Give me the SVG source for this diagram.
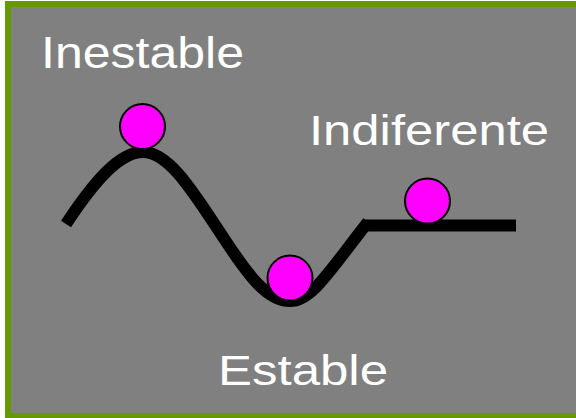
<svg xmlns="http://www.w3.org/2000/svg" width="576" height="418" viewBox="0 0 576 418">
  <style>
    .lbl { font-family: "Liberation Sans", Arial, sans-serif; fill: #ffffff; }
    .ball { fill: #ff00ff; stroke: #000000; stroke-width: 2; }
    .track { fill: none; stroke: #000000; stroke-width: 12; }
  </style>
  <rect x="0" y="0" width="576" height="418" fill="#ffffff"/>
  <rect id="frame" x="8" y="4" width="700" height="412" fill="#808080" stroke="#669900" stroke-width="6"/>
  <g id="connectors">
    <path class="track" d="M66,224 C95,180 120,152 143,152 C170,152 195,195 225,240 C250,278 268,301 290,301 C312,301 330,270 368,222"/>
    <path class="track" d="M363,225.5 H516"/>
  </g>
  <g id="ball-inestable">
    <circle class="ball" cx="142.5" cy="126.5" r="22.5"/>
  </g>
  <g id="ball-estable">
    <circle class="ball" cx="290" cy="278" r="22.5"/>
  </g>
  <g id="ball-indiferente">
    <circle class="ball" cx="427.5" cy="201" r="22.5"/>
  </g>
  <g id="label-inestable">
    <text class="lbl" x="41" y="68" font-size="45" textLength="203" lengthAdjust="spacingAndGlyphs">Inestable</text>
  </g>
  <g id="label-indiferente">
    <text class="lbl" x="309" y="145" font-size="42" textLength="240" lengthAdjust="spacingAndGlyphs">Indiferente</text>
  </g>
  <g id="label-estable">
    <text class="lbl" x="218" y="385" font-size="42" textLength="170" lengthAdjust="spacingAndGlyphs">Estable</text>
  </g>
</svg>
